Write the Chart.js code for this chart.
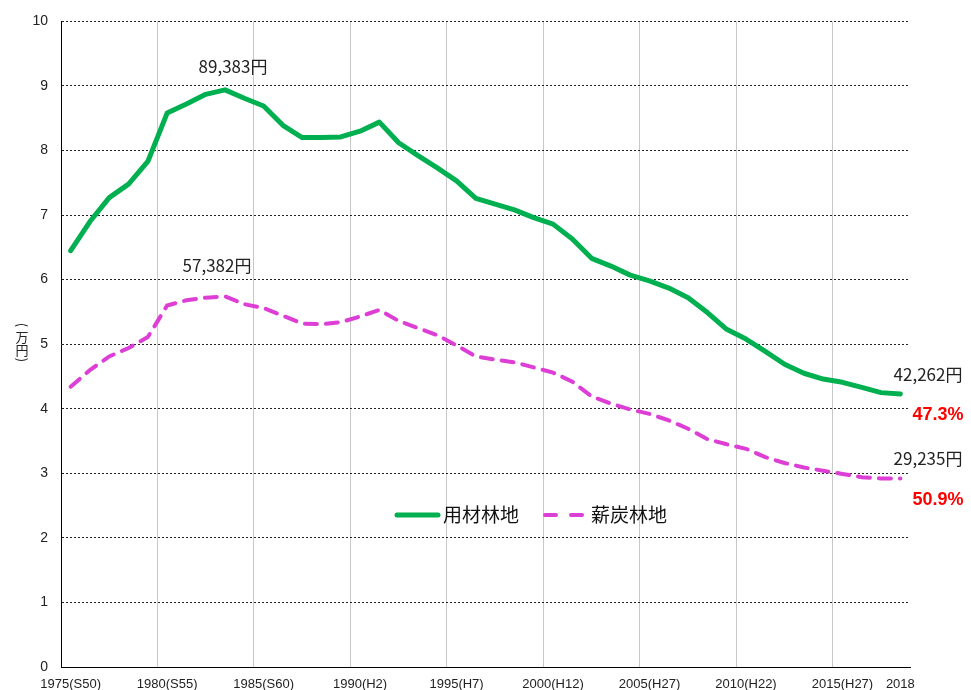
<!DOCTYPE html>
<html>
<head>
<meta charset="utf-8">
<script src="https://cdn.jsdelivr.net/npm/chart.js@4.4.0/dist/chart.umd.min.js"></script>
<style>
  body { margin: 0; background: #fff; }
</style>
</head>
<body>
<canvas id="grafico" width="971" height="690"></canvas>
<script>
// anos (eixo X)
var anos = ['1975','1976','1977','1978','1979','1980','1981','1982','1983','1984',
            '1985','1986','1987','1988','1989','1990','1991','1992','1993','1994',
            '1995','1996','1997','1998','1999','2000','2001','2002','2003','2004',
            '2005','2006','2007','2008','2009','2010','2011','2012','2013','2014',
            '2015','2016','2017','2018'];

// 用材林地 (万円)
var yozai = [6.45, 6.90, 7.27, 7.48, 7.83, 8.58, 8.72, 8.87, 8.94, 8.81,
             8.69, 8.39, 8.20, 8.20, 8.21, 8.30, 8.44, 8.12, 7.92, 7.73,
             7.53, 7.26, 7.17, 7.08, 6.96, 6.86, 6.63, 6.33, 6.21, 6.07,
             5.98, 5.87, 5.72, 5.49, 5.23, 5.08, 4.89, 4.69, 4.55, 4.46,
             4.41, 4.33, 4.25, 4.23];

// 薪炭林地 (万円)
var shintan = [4.34, 4.60, 4.81, 4.94, 5.11, 5.60, 5.68, 5.72, 5.74, 5.62,
               5.56, 5.44, 5.32, 5.31, 5.34, 5.43, 5.53, 5.36, 5.25, 5.14,
               4.98, 4.81, 4.76, 4.72, 4.64, 4.56, 4.42, 4.19, 4.08, 3.99,
               3.92, 3.82, 3.69, 3.53, 3.45, 3.38, 3.25, 3.16, 3.09, 3.04,
               2.99, 2.94, 2.92, 2.92];

// rótulos do eixo X que aparecem
var anosRotulo = ['1975','1980','1985','1990','1995','2000','2005','2010','2015','2018'];
var textoRotulo = ['1975(S50)','1980(S55)','1985(S60)','1990(H2)','1995(H7)',
                   '2000(H12)','2005(H27)','2010(H22)','2015(H27)','2018'];

var nomes = ['用材林地', '薪炭林地'];
var picos = ['89,383円', '57,382円'];
var finais = ['42,262円', '29,235円'];
var quedas = ['47.3%', '50.9%'];

var verde = '#00b050';
var rosa = '#dd3fd6';

var notas = {
  id: 'notas',
  afterDraw: function(chart) {
    var ctx = chart.ctx;
    var x = chart.scales.x, y = chart.scales.y, area = chart.chartArea;
    var iPico = 8, iFim = anos.length - 1;
    ctx.save();
    ctx.textBaseline = 'middle';

    // valores de pico e finais
    ctx.fillStyle = '#222';
    ctx.font = '17px "Noto Sans CJK JP"';
    ctx.textAlign = 'center';
    ctx.fillText(picos[0], x.getPixelForValue(iPico) + 8, y.getPixelForValue(yozai[iPico]) - 23);
    ctx.fillText(picos[1], x.getPixelForValue(iPico) - 8, y.getPixelForValue(shintan[iPico]) - 31);
    ctx.fillText(finais[0], area.right + 18, y.getPixelForValue(yozai[iFim]) - 19);
    ctx.fillText(finais[1], area.right + 18, y.getPixelForValue(shintan[iFim]) - 20);

    ctx.fillStyle = '#ff0000';
    ctx.font = 'bold 18px "Liberation Sans"';
    ctx.fillText(quedas[0], area.right + 28, y.getPixelForValue(yozai[iFim]) + 21);
    ctx.fillText(quedas[1], area.right + 28, y.getPixelForValue(shintan[iFim]) + 22);

    // título do eixo Y, vertical
    ctx.fillStyle = '#222';
    ctx.font = '13px "Noto Sans CJK JP"';
    ctx.fillText('万', 22, 337);
    ctx.fillText('円', 22, 350);
    ctx.save(); ctx.translate(22, 325); ctx.rotate(Math.PI / 2); ctx.fillText('(', 0, 0); ctx.restore();
    ctx.save(); ctx.translate(22, 360); ctx.rotate(Math.PI / 2); ctx.fillText(')', 0, 0); ctx.restore();

    // legenda dentro do gráfico
    var ly = 515;
    ctx.lineCap = 'round';
    ctx.strokeStyle = verde;
    ctx.lineWidth = 5;
    ctx.beginPath(); ctx.moveTo(397, ly); ctx.lineTo(438, ly); ctx.stroke();
    ctx.strokeStyle = rosa;
    ctx.lineWidth = 4;
    ctx.setLineDash([11, 15]);
    ctx.beginPath(); ctx.moveTo(545, ly); ctx.lineTo(583, ly); ctx.stroke();
    ctx.setLineDash([]);
    ctx.textAlign = 'left';
    ctx.fillStyle = '#111';
    ctx.font = '19px "Noto Sans CJK JP"';
    ctx.fillText(nomes[0], 443, ly);
    ctx.fillText(nomes[1], 591, ly);
    ctx.restore();
  }
};

var ctx = document.getElementById('grafico').getContext('2d');
var chart = new Chart(ctx, {
  type: 'line',
  data: {
    labels: anos,
    datasets: [{
      label: nomes[0],
      data: yozai,
      borderColor: verde,
      borderWidth: 5,
      pointRadius: 0,
      tension: 0,
      borderCapStyle: 'round',
      borderJoinStyle: 'round'
    }, {
      label: nomes[1],
      data: shintan,
      borderColor: rosa,
      borderWidth: 4,
      borderDash: [12, 9],
      borderCapStyle: 'round',
      pointRadius: 0,
      tension: 0
    }]
  },
  options: {
    responsive: false,
    animation: false,
    devicePixelRatio: 1,
    layout: { padding: { top: 20, right: 61, left: 0, bottom: 0 } },
    plugins: {
      legend: { display: false },
      tooltip: { enabled: false }
    },
    scales: {
      x: {
        offset: true,
        grid: {
          offset: true,
          drawTicks: false,
          color: function(c) {
            return (c.index > 0 && c.index < anos.length && c.index % 5 === 0) ? '#c8c8c8' : 'rgba(0,0,0,0)';
          }
        },
        border: { display: true, color: '#000', width: 1 },
        ticks: {
          autoSkip: false,
          maxRotation: 0,
          padding: 10,
          color: '#222',
          font: { family: 'Liberation Sans', size: 13 },
          callback: function(value) {
            var k = anosRotulo.indexOf(this.getLabelForValue(value));
            return k >= 0 ? textoRotulo[k] : '';
          }
        },
        afterFit: function(scale) { scale.height = 23; }
      },
      y: {
        min: 0,
        max: 10,
        grid: { color: '#222', drawTicks: false },
        border: { display: true, color: '#000', width: 1, dash: [2, 2] },
        ticks: {
          stepSize: 1,
          padding: 13,
          color: '#222',
          font: { family: 'Liberation Sans', size: 14 }
        },
        afterFit: function(scale) { scale.width = 61; }
      }
    }
  },
  plugins: [notas]
});
</script>
</body>
</html>
